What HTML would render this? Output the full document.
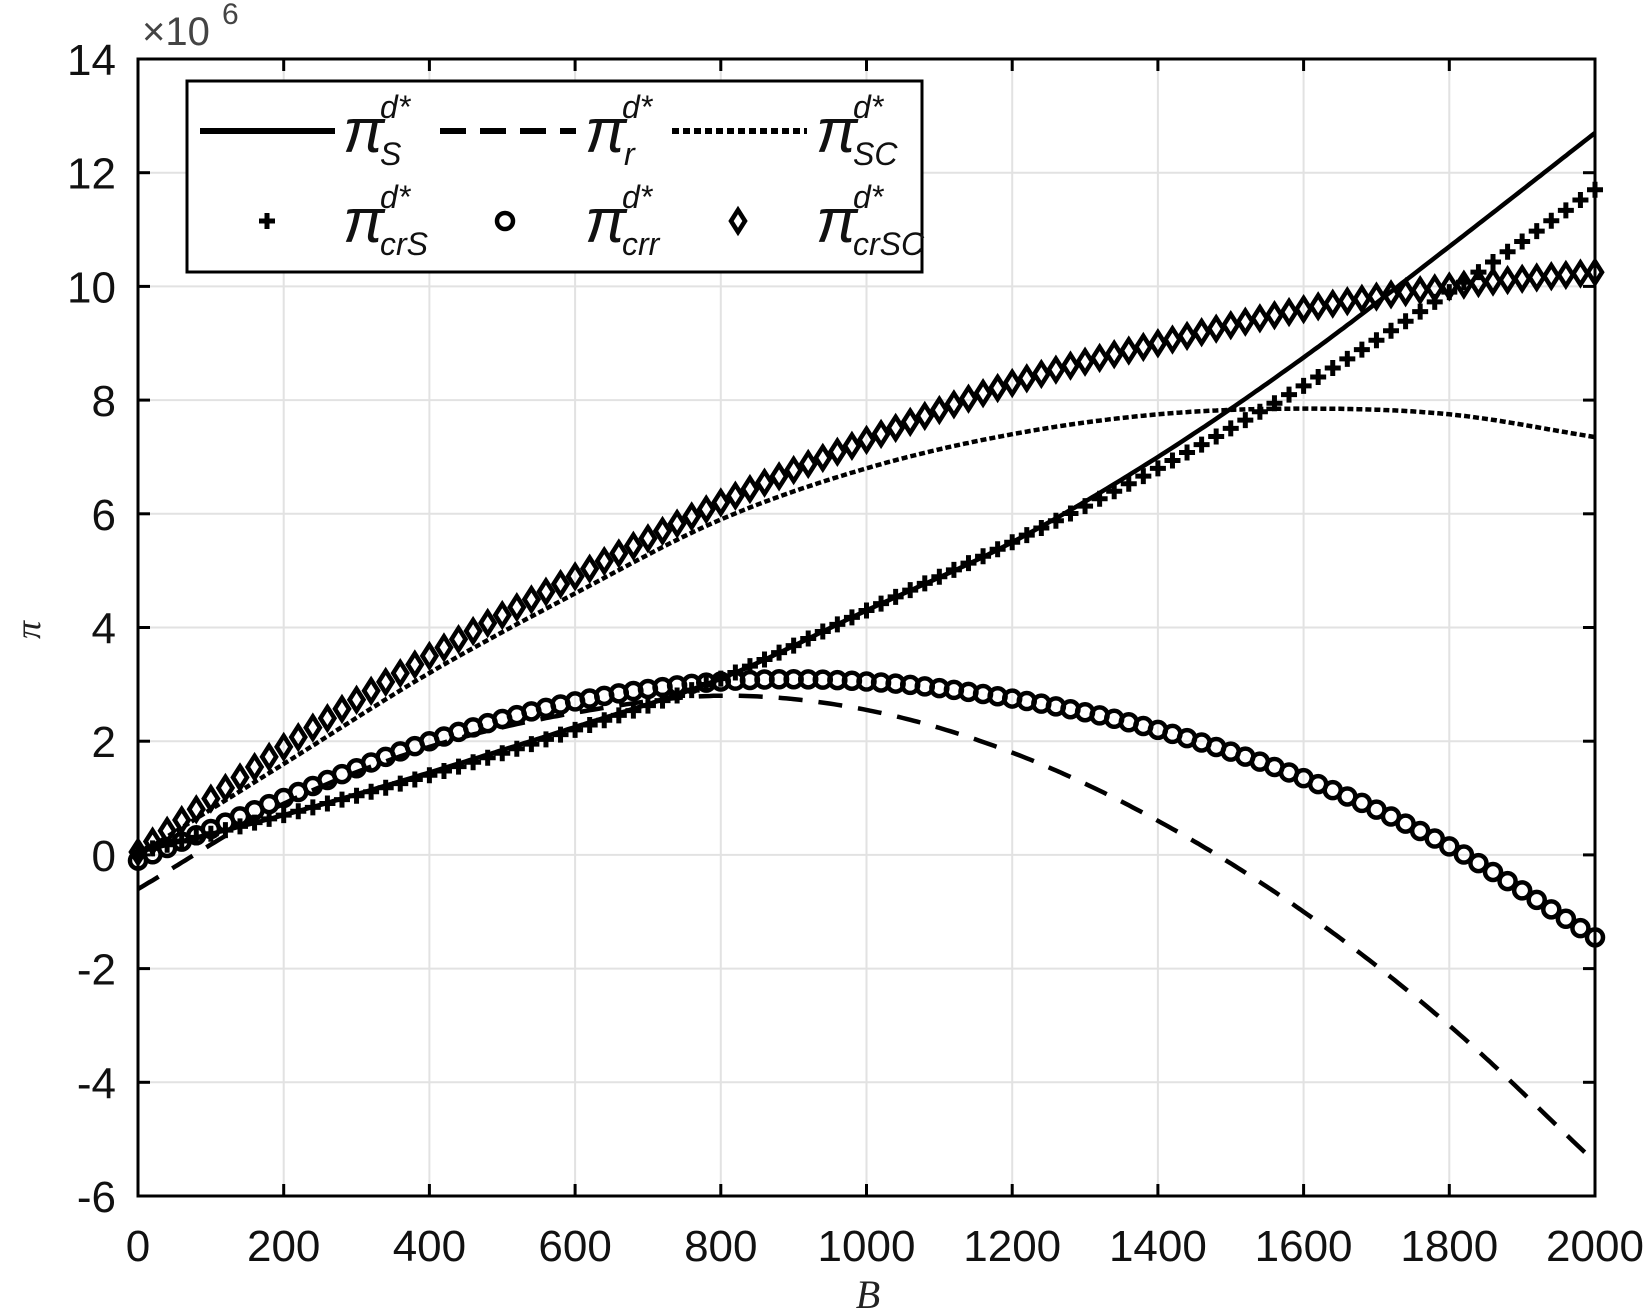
<!DOCTYPE html>
<html><head><meta charset="utf-8"><style>
body{margin:0;background:#fff;}
svg{display:block;}
text{font-family:"Liberation Sans",sans-serif;}
.it{font-family:"Liberation Serif","DejaVu Serif",serif;font-style:italic;}
</style></head><body>
<svg id="s" width="1643" height="1314" viewBox="0 0 1643 1314" xmlns="http://www.w3.org/2000/svg">
<rect width="1643" height="1314" fill="#fff"/>
<g id="grid" stroke="#e2e2e2" stroke-width="2"></g>
<g id="data"></g>
<rect x="138" y="59" width="1457" height="1137" fill="none" stroke="#000" stroke-width="3"/>
<g id="ticks" stroke="#000" stroke-width="3"></g>
<g font-size="44" fill="#111" id="lbl"></g>
<text x="142" y="45" font-size="40" fill="#444">×10</text>
<text x="222" y="24" font-size="30" fill="#444">6</text>
<text x="868" y="1308" class="it" font-size="40" text-anchor="middle" fill="#222">B</text>
<text class="it" font-size="36" fill="#222" transform="translate(40,630) rotate(-90)" text-anchor="middle">π</text>
<g id="legend">
<rect x="187" y="81" width="735" height="191" fill="#fff" stroke="#000" stroke-width="3"/>
<line x1="200" y1="131" x2="335" y2="131" stroke="#000" stroke-width="6"/>
<line x1="440" y1="131" x2="576" y2="131" stroke="#000" stroke-width="6" stroke-dasharray="26,14"/>
<line x1="672" y1="131" x2="807" y2="131" stroke="#000" stroke-width="6" stroke-dasharray="7,4"/>
<g class="it" fill="#111">
<text x="343" y="152" font-size="62">π</text><text x="380" y="118" font-size="32">d*</text><text x="380" y="165" font-size="32">S</text>
<text x="585" y="152" font-size="62">π</text><text x="622" y="118" font-size="32">d*</text><text x="624" y="165" font-size="32">r</text>
<text x="816" y="152" font-size="62">π</text><text x="853" y="118" font-size="32">d*</text><text x="853" y="165" font-size="32">SC</text>
<text x="343" y="242" font-size="62">π</text><text x="380" y="208" font-size="32">d*</text><text x="380" y="255" font-size="32">crS</text>
<text x="585" y="242" font-size="62">π</text><text x="622" y="208" font-size="32">d*</text><text x="622" y="255" font-size="32">crr</text>
<text x="816" y="242" font-size="62">π</text><text x="853" y="208" font-size="32">d*</text><text x="853" y="255" font-size="32">crSC</text>
</g>
<g id="lm"></g>
</g>
</svg>
<script>
var X=function(b){return 138+b*1457/2000}, Y=function(v){return 1196-(v+6)*1137/20};
var NS="http://www.w3.org/2000/svg";
function el(p,t,a){var e=document.createElementNS(NS,t);for(var k in a)e.setAttribute(k,a[k]);p.appendChild(e);return e;}
var g=document.getElementById('grid'),tk=document.getElementById('ticks'),lb=document.getElementById('lbl');
for(var b=0;b<=2000;b+=200){var x=X(b);if(b>0&&b<2000)el(g,'line',{x1:x,y1:59,x2:x,y2:1196});
el(tk,'line',{x1:x,y1:1196,x2:x,y2:1184});el(tk,'line',{x1:x,y1:59,x2:x,y2:71});
var t=el(lb,'text',{x:x,y:1261,'text-anchor':'middle'});t.textContent=b;}
for(var v=-6;v<=14;v+=2){var y=Y(v);if(v>-6&&v<14)el(g,'line',{x1:138,y1:y,x2:1595,y2:y});
el(tk,'line',{x1:138,y1:y,x2:150,y2:y});el(tk,'line',{x1:1595,y1:y,x2:1583,y2:y});
var t=el(lb,'text',{x:116,y:y+16,'text-anchor':'end'});t.textContent=v;}
function interp(pts,b){var i=Math.min(Math.floor(b/200),pts.length-2);var t=(b-i*200)/200;
var p0=i>0?pts[i-1]:2*pts[0]-pts[1],p1=pts[i],p2=pts[i+1],p3=i+2<pts.length?pts[i+2]:2*pts[i+1]-pts[i];
return 0.5*((2*p1)+(-p0+p2)*t+(2*p0-5*p1+4*p2-p3)*t*t+(-p0+3*p1-3*p2+p3)*t*t*t);}
var S=[0.05,0.7,1.45,2.25,3.1,4.3,5.5,7.0,8.75,10.7,12.7];
var crS=[0.05,0.7,1.4,2.2,3.1,4.3,5.5,6.8,8.25,9.9,11.7];
var R=[-0.6,0.9,1.9,2.5,2.8,2.55,1.8,0.6,-1.0,-3.0,-5.4];
var SC=[0.0,1.6,3.2,4.6,5.9,6.8,7.4,7.75,7.85,7.75,7.35];
var crSC=[0.05,1.9,3.5,4.9,6.2,7.3,8.3,9.0,9.6,10.0,10.25];
var crr=[-0.1,1.0,2.0,2.7,3.05,3.05,2.75,2.2,1.35,0.15,-1.45];
var d=document.getElementById('data');
function line(pts,attrs){var s='';for(var b=0;b<=2000;b+=5){s+=(b?'L':'M')+X(b).toFixed(1)+','+Y(interp(pts,b)).toFixed(1);}
attrs.d=s;attrs.fill='none';attrs.stroke='#000';el(d,'path',attrs);}
line(S,{'stroke-width':4.5});
line(R,{'stroke-width':4.5,'stroke-dasharray':'24,16'});
line(SC,{'stroke-width':4.5,'stroke-dasharray':'6,3'});
function plus(p,x,y){el(p,'path',{d:'M'+(x-8)+','+y+'h16M'+x+','+(y-8)+'v16',stroke:'#000','stroke-width':5});}
function circ(p,x,y){el(p,'circle',{cx:x,cy:y,r:8,fill:'none',stroke:'#000','stroke-width':4.5});}
function dia(p,x,y){el(p,'path',{d:'M'+x+','+(y-11)+'L'+(x+7)+','+y+'L'+x+','+(y+11)+'L'+(x-7)+','+y+'Z',fill:'none',stroke:'#000','stroke-width':4.5});}
for(var b=0;b<=2000;b+=20){plus(d,X(b),Y(interp(crS,b)));}
for(var b=0;b<=2000;b+=20){circ(d,X(b),Y(interp(crr,b)));}
for(var b=0;b<=2000;b+=20){dia(d,X(b),Y(interp(crSC,b)));}
var lm=document.getElementById('lm');plus(lm,267,221);circ(lm,505,221);dia(lm,738,221);
</script>
</body></html>
